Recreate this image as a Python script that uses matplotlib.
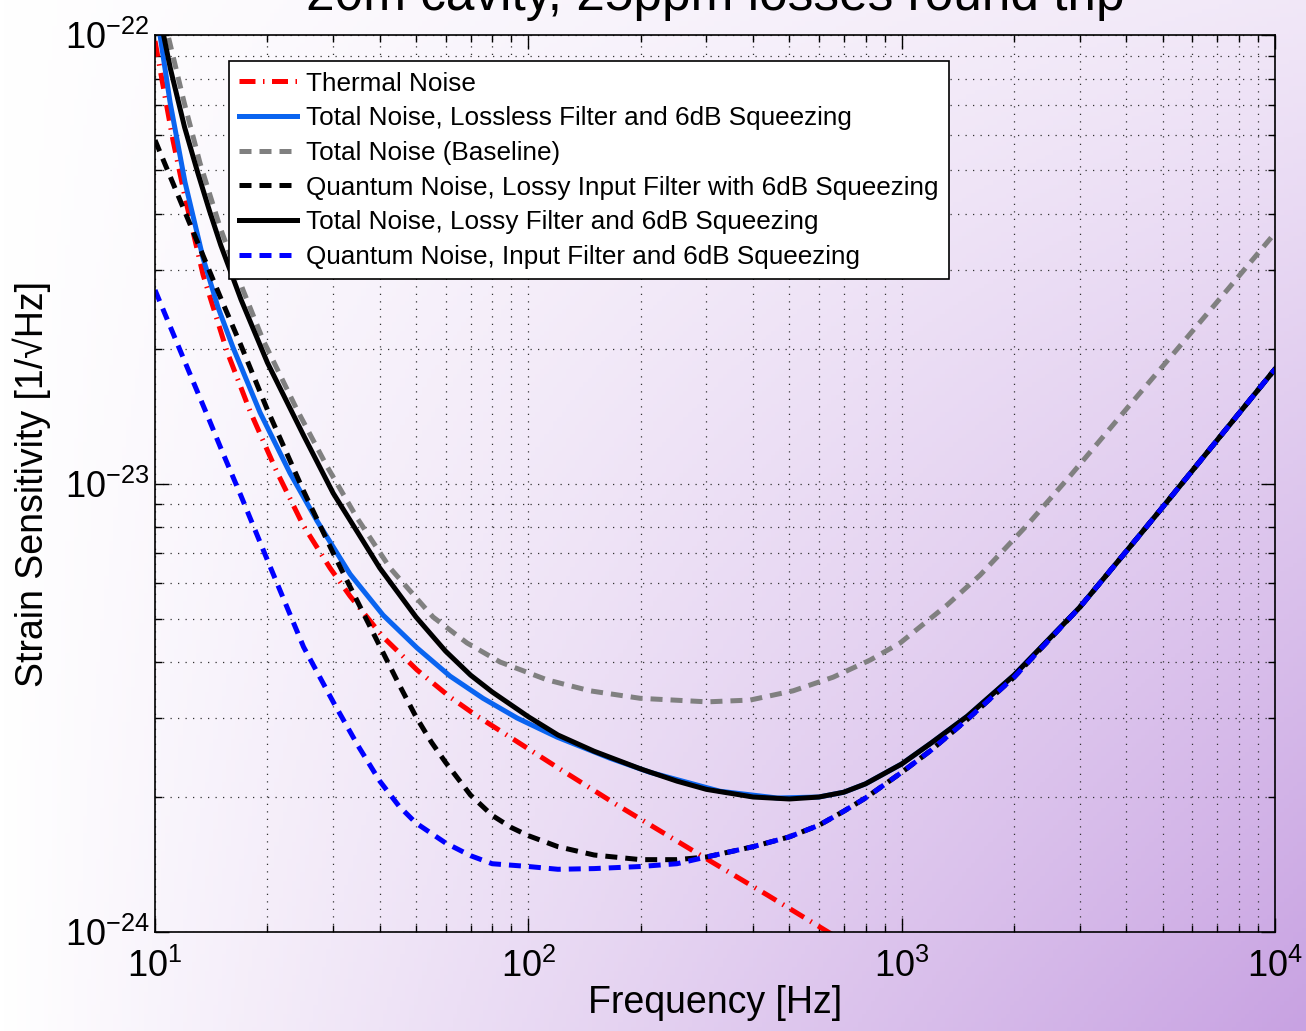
import numpy as np
import matplotlib
matplotlib.use('Agg')
import matplotlib.pyplot as plt
from matplotlib.ticker import LogLocator, NullFormatter

plt.rcParams['font.family'] = ['Liberation Sans', 'DejaVu Sans']
plt.rcParams['mathtext.fontset'] = 'custom'
plt.rcParams['mathtext.rm'] = 'Liberation Sans'
plt.rcParams['mathtext.default'] = 'regular'

# values (frequency in Hz, strain in 1/sqrt(Hz))
thermal_f = [10, 10.44, 11.17, 12.03, 13.45, 15.59, 17.97, 21.22, 24.92, 29.43, 33.30, 40.81, 50.33,
             61.71, 72.88, 89.33, 119.4, 172.8, 288.4, 436.1, 635.1, 990]
thermal_h = [9.70e-23, 7.94e-23, 5.83e-23, 4.35e-23, 2.92e-23, 1.97e-23, 1.45e-23, 1.06e-23, 8.08e-24,
             6.48e-24, 5.61e-24, 4.55e-24, 3.84e-24, 3.34e-24, 3.03e-24, 2.72e-24, 2.33e-24, 1.92e-24,
             1.485e-24, 1.21e-24, 1.0e-24, 7.98e-25]

lossless_f = [10, 10.31, 10.97, 12.03, 13.45, 14.75, 16.18, 19.11, 22.99, 27.17, 33.30, 40.81, 50.33,
              61.71, 75.6, 93.3, 119.4, 165.6, 211.9, 326.2, 463.9, 600, 700, 800, 1000, 1200, 1500,
              2000, 3000, 4000, 5000, 7000, 10000]
lossless_h = [1.19e-22, 1.0e-22, 7.09e-23, 4.70e-23, 3.18e-23, 2.47e-23, 2.01e-23, 1.44e-23, 1.055e-23,
              8.25e-24, 6.28e-24, 5.09e-24, 4.30e-24, 3.72e-24, 3.32e-24, 3.00e-24, 2.72e-24, 2.44e-24,
              2.27e-24, 2.06e-24, 1.99e-24, 2.00e-24, 2.05e-24, 2.14e-24, 2.37e-24, 2.64e-24, 3.03e-24,
              3.74e-24, 5.30e-24, 7.07e-24, 8.86e-24, 1.25e-23, 1.80e-23]

baseline_f = [10, 10.83, 11.96, 13.2, 14.93, 17.21, 19.47, 24.01, 28.92, 34.77, 42.62, 55.54, 68.52,
              84.0, 112.2, 146.3, 199.2, 301.2, 392.6, 511.8, 655.0, 823, 990.2, 1323, 1622, 2168,
              2826, 4091, 5236, 7442, 10000]
baseline_h = [1.33e-22, 1.0e-22, 7.09e-23, 5.18e-23, 3.73e-23, 2.70e-23, 2.09e-23, 1.46e-23, 1.09e-23,
              8.38e-24, 6.48e-24, 5.04e-24, 4.41e-24, 4.00e-24, 3.65e-24, 3.45e-24, 3.32e-24, 3.26e-24,
              3.29e-24, 3.45e-24, 3.70e-24, 4.04e-24, 4.41e-24, 5.36e-24, 6.25e-24, 8.08e-24, 1.04e-23,
              1.50e-23, 1.91e-23, 2.70e-23, 3.62e-23]

qn_lossy_f = [10, 12, 15, 17, 20, 25, 30, 35, 40, 45, 50, 55, 60, 70, 80, 90, 100, 120, 150, 200, 250,
              300, 400, 500, 600, 700, 800, 1000, 1200, 1500, 2000, 3000, 4000, 5000, 7000, 10000]
qn_lossy_h = [5.83e-23, 4.05e-23, 2.59e-23, 2.03e-23, 1.46e-23, 9.62e-24, 7.00e-24, 5.42e-24, 4.34e-24,
              3.57e-24, 3.02e-24, 2.65e-24, 2.39e-24, 2.02e-24, 1.82e-24, 1.71e-24, 1.64e-24, 1.55e-24,
              1.485e-24, 1.45e-24, 1.45e-24, 1.47e-24, 1.55e-24, 1.63e-24, 1.73e-24, 1.86e-24, 1.99e-24,
              2.27e-24, 2.545e-24, 2.98e-24, 3.70e-24, 5.30e-24, 7.07e-24, 8.86e-24, 1.25e-23, 1.80e-23]

lossy_f = [10, 11, 12, 13, 14, 15, 17, 20, 25, 30, 35, 40, 50, 60, 70, 80, 100, 120, 150, 200, 250, 300,
           400, 500, 600, 700, 800, 1000, 1200, 1500, 2000, 3000, 4000, 5000, 7000, 10000]
lossy_h = [1.24e-22, 8.40e-23, 6.23e-23, 4.95e-23, 4.05e-23, 3.40e-23, 2.57e-23, 1.86e-23, 1.28e-23,
           9.52e-24, 7.75e-24, 6.48e-24, 5.04e-24, 4.23e-24, 3.74e-24, 3.43e-24, 3.02e-24, 2.75e-24,
           2.53e-24, 2.31e-24, 2.17e-24, 2.08e-24, 2.00e-24, 1.98e-24, 2.00e-24, 2.05e-24, 2.14e-24,
           2.37e-24, 2.64e-24, 3.03e-24, 3.74e-24, 5.30e-24, 7.07e-24, 8.86e-24, 1.25e-23, 1.80e-23]

qn_input_f = [10, 12, 14, 15, 17, 20, 25, 30, 35, 40, 45, 50, 60, 70, 80, 100, 120, 150, 200, 250, 300,
              400, 500, 600, 700, 800, 1000, 1200, 1500, 2000, 3000, 4000, 5000, 7000, 10000]
qn_input_h = [2.70e-23, 1.875e-23, 1.38e-23, 1.20e-23, 9.38e-24, 6.75e-24, 4.32e-24, 3.26e-24, 2.60e-24,
              2.17e-24, 1.91e-24, 1.75e-24, 1.58e-24, 1.48e-24, 1.42e-24, 1.40e-24, 1.38e-24, 1.385e-24,
              1.40e-24, 1.42e-24, 1.47e-24, 1.55e-24, 1.63e-24, 1.73e-24, 1.86e-24, 1.99e-24, 2.27e-24,
              2.545e-24, 2.98e-24, 3.70e-24, 5.30e-24, 7.07e-24, 8.86e-24, 1.25e-23, 1.80e-23]

fig = plt.figure(figsize=(13.06, 10.31), dpi=100)

# background gradient (white top-left -> purple bottom-right)
bg = fig.add_axes([0, 0, 1, 1], zorder=-10)
xx, yy = np.meshgrid(np.linspace(0, 1, 300), np.linspace(0, 1, 240))
t = xx * (0.25 + 0.75 * yy)
white = np.array([1.0, 1.0, 1.0])
purple = np.array([200, 162, 226]) / 255.0
img = white[None, None, :] * (1 - t[..., None]) + purple[None, None, :] * t[..., None]
bg.imshow(img, aspect='auto', extent=[0, 1, 0, 1], origin='upper')
bg.axis('off')

ax = fig.add_axes([0.1187, 0.0960, 0.8576, 0.8700])
ax.patch.set_alpha(0)

lw = 3.6
ax.plot(thermal_f, thermal_h, color='red', lw=lw, dashes=(3.2, 1.5, 0.3, 1.5), label='Thermal Noise')
ax.plot(lossless_f, lossless_h, color='#0a64f0', lw=lw, label='Total Noise, Lossless Filter and 6dB Squeezing')
ax.plot(baseline_f, baseline_h, color='#808080', lw=lw, dashes=(2.4, 1.6), label='Total Noise (Baseline)')
ax.plot(qn_lossy_f, qn_lossy_h, color='black', lw=lw, dashes=(2.4, 1.6),
        label='Quantum Noise, Lossy Input Filter with 6dB Squeezing')
ax.plot(lossy_f, lossy_h, color='black', lw=lw, label='Total Noise, Lossy Filter and 6dB Squeezing')
ax.plot(qn_input_f, qn_input_h, color='#0000ff', lw=lw, dashes=(2.4, 1.6),
        label='Quantum Noise, Input Filter and 6dB Squeezing')

ax.set_xscale('log')
ax.set_yscale('log')
ax.set_xlim(10, 1e4)
ax.set_ylim(1e-24, 1e-22)
ax.xaxis.set_minor_locator(LogLocator(base=10, subs=np.arange(2, 10)))
ax.yaxis.set_minor_locator(LogLocator(base=10, subs=np.arange(2, 10)))
ax.xaxis.set_minor_formatter(NullFormatter())
ax.yaxis.set_minor_formatter(NullFormatter())

ax.grid(True, which='both', linestyle=(0, (1, 5)), color='#333333', lw=0.9)
ax.tick_params(which='both', direction='in', top=True, right=True, width=1)
ax.tick_params(which='major', length=10, labelsize=26)
ax.tick_params(which='minor', length=5)
ax.tick_params(axis='x', pad=12)
ax.tick_params(axis='y', pad=4)
for sp in ax.spines.values():
    sp.set_linewidth(1.2)

ax.set_xlabel('Frequency [Hz]', fontsize=27, labelpad=0)
ax.set_ylabel('Strain Sensitivity [1/\u221aHz]', fontsize=27, labelpad=10)

leg = ax.legend(loc='upper left', bbox_to_anchor=(0.066, 0.971), borderaxespad=0, fontsize=18.8,
                handlelength=2.2, handletextpad=0.35, labelspacing=0.41, borderpad=0.4,
                fancybox=False, framealpha=1, edgecolor='black')
leg.get_frame().set_linewidth(1.2)

# title sits mostly above the top edge, as in the original export
fig.text(0.548, 1 - 10 / 1031, '20m cavity, 25ppm losses round trip', fontsize=37,
         ha='center', va='baseline')

fig.savefig('out.png', dpi=100)
